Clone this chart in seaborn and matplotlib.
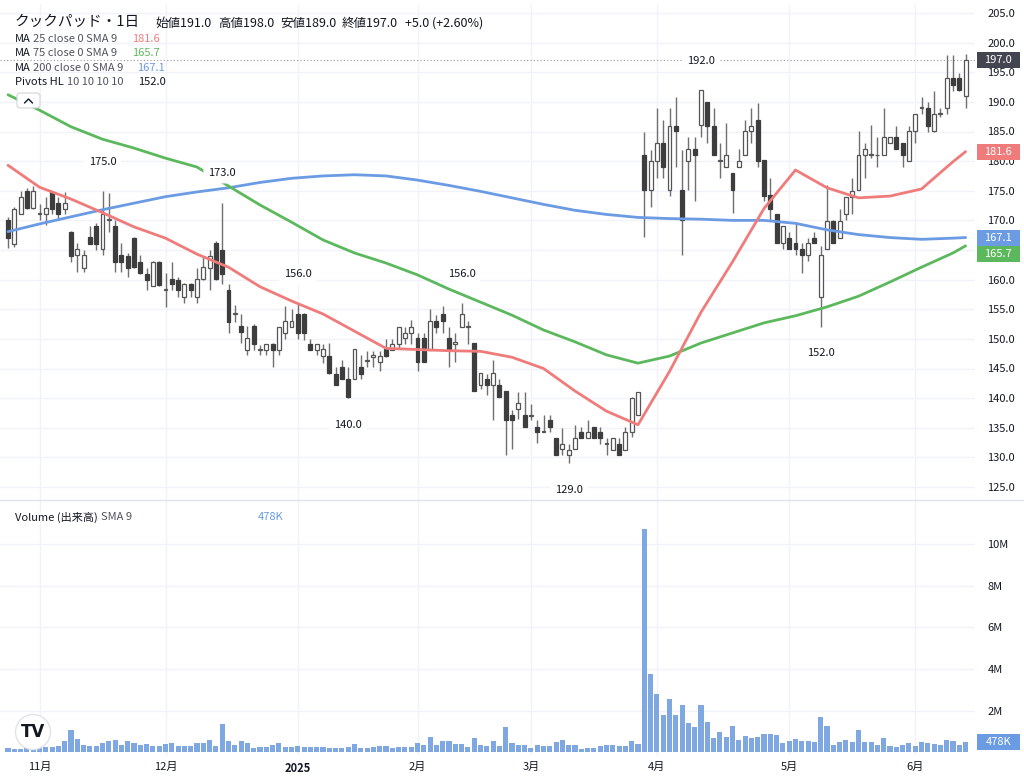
import numpy as np
import pandas as pd
import seaborn as sns
import matplotlib
matplotlib.use("Agg")
import matplotlib.pyplot as plt
from matplotlib.transforms import blended_transform_factory
from matplotlib.patches import Rectangle, FancyBboxPatch, Circle
from matplotlib.lines import Line2D

# ---------------- data ----------------
open_ = [
    170.0, 166.0, 171.1, 175.0, 172.1, 171.0, 171.1, 174.8, 173.0, 172.0,
    168.0, 164.2, 162.0, 167.2, 169.0, 165.2, 170.0, 169.0, 164.2, 164.0,
    167.0, 163.0, 161.0, 159.0, 163.0, 158.2, 160.1, 160.0, 157.1, 159.3,
    157.1, 160.1, 162.0, 166.2, 165.0, 158.2, 154.2, 152.2, 148.1, 152.2,
    148.1, 148.1, 149.1, 148.1, 151.0, 152.0, 154.2, 154.2, 149.1, 148.1,
    147.1, 147.1, 144.1, 145.3, 143.2, 143.2, 145.3, 146.3, 147.0, 146.1,
    148.3, 148.1, 149.1, 150.1, 151.0, 150.1, 150.1, 148.1, 153.0, 154.2,
    150.1, 149.2, 152.0, 152.0, 149.3, 142.2, 143.2, 142.2, 142.2, 141.2,
    137.2, 138.2, 137.2, 137.0, 135.1, 134.3, 136.3, 133.3, 131.4, 130.4,
    131.4, 134.3, 133.3, 135.1, 134.3, 132.2, 131.2, 132.3, 131.2, 134.3,
    137.2, 181.0, 175.1, 180.0, 183.0, 175.1, 185.9, 175.1, 180.0, 182.0,
    186.1, 190.0, 185.9, 180.0, 179.0, 178.0, 179.0, 181.0, 185.0, 186.9,
    180.2, 174.2, 171.1, 166.1, 167.1, 166.1, 165.1, 164.2, 167.1, 157.1,
    165.1, 169.9, 167.1, 171.1, 174.0, 175.1, 181.0, 181.0, 181.0, 181.0,
    183.0, 184.0, 183.0, 180.1, 185.0, 188.9, 188.9, 185.0, 188.0, 188.9,
    194.0, 194.0, 191.0,
]
high = [
    170.5, 172.3, 175.0, 175.5, 175.8, 172.7, 174.0, 174.9, 174.0, 174.8,
    168.2, 166.2, 165.0, 169.0, 169.5, 175.0, 174.6, 170.0, 166.2, 164.5,
    167.2, 164.2, 162.0, 163.2, 163.2, 161.1, 163.0, 160.5, 159.5, 159.5,
    162.0, 164.0, 165.0, 166.5, 173.0, 159.3, 155.7, 154.2, 152.2, 152.5,
    149.0, 149.1, 149.3, 152.0, 155.6, 155.0, 156.0, 154.3, 150.0, 149.1,
    149.1, 149.3, 145.3, 146.5, 145.3, 148.3, 147.3, 148.0, 148.0, 148.0,
    150.0, 150.0, 152.0, 152.0, 153.2, 151.0, 151.0, 155.0, 154.0, 155.6,
    152.0, 151.0, 156.0, 153.0, 149.3, 144.2, 144.0, 146.5, 143.2, 141.2,
    138.0, 141.0, 141.0, 139.0, 136.3, 137.2, 137.2, 133.3, 135.0, 132.3,
    135.4, 135.1, 136.3, 135.1, 135.1, 133.3, 133.3, 133.3, 135.1, 140.2,
    141.0, 185.0, 181.9, 188.9, 186.9, 188.9, 190.9, 181.9, 184.1, 184.1,
    192.0, 190.0, 188.9, 183.0, 186.4, 178.0, 182.0, 186.9, 188.9, 189.8,
    180.2, 177.1, 171.1, 169.0, 168.1, 169.8, 166.1, 167.1, 168.1, 165.6,
    176.0, 170.0, 172.0, 174.0, 177.1, 185.1, 183.0, 186.1, 184.0, 188.9,
    184.0, 185.9, 183.0, 185.9, 188.0, 190.9, 190.0, 191.9, 188.9, 197.9,
    197.9, 194.9, 198.0,
]
low = [
    165.3, 165.5, 171.0, 172.0, 172.0, 170.0, 169.3, 171.0, 170.0, 171.0,
    163.0, 161.3, 161.3, 166.0, 165.0, 164.2, 168.0, 161.3, 161.3, 160.4,
    162.0, 161.0, 158.2, 159.0, 159.0, 155.3, 158.2, 157.0, 156.0, 157.0,
    156.0, 160.0, 158.2, 160.0, 159.3, 151.0, 152.9, 149.3, 147.3, 148.1,
    147.3, 147.3, 145.3, 147.3, 150.0, 152.0, 150.0, 149.8, 148.1, 147.3,
    146.0, 144.1, 142.2, 143.2, 140.0, 143.2, 143.2, 145.3, 145.3, 144.6,
    147.0, 148.1, 148.3, 149.1, 149.1, 144.6, 146.1, 148.1, 151.0, 151.0,
    145.3, 146.1, 152.0, 149.1, 141.2, 141.5, 140.5, 136.3, 140.2, 130.4,
    131.4, 136.5, 135.1, 136.3, 132.5, 134.2, 134.2, 130.4, 130.4, 129.0,
    131.4, 133.3, 133.3, 133.3, 132.3, 130.4, 131.2, 130.4, 131.2, 133.4,
    137.2, 167.2, 172.2, 177.1, 177.1, 174.1, 179.0, 164.2, 175.1, 173.2,
    184.1, 183.0, 181.0, 177.1, 179.0, 171.2, 179.0, 181.0, 183.0, 179.0,
    173.2, 170.1, 166.1, 165.1, 165.1, 164.2, 161.2, 163.2, 166.1, 152.0,
    165.1, 166.1, 167.1, 170.1, 171.1, 175.1, 177.1, 180.5, 179.0, 181.0,
    183.0, 182.0, 179.0, 180.0, 183.0, 188.0, 185.0, 185.0, 187.4, 188.0,
    191.9, 191.9, 189.0,
]
close = [
    167.0, 172.0, 174.0, 172.1, 175.0, 171.3, 172.1, 172.0, 171.0, 173.0,
    164.0, 165.2, 164.2, 166.0, 166.0, 171.0, 170.3, 163.0, 163.0, 162.0,
    162.1, 161.1, 160.0, 163.0, 159.1, 158.4, 159.3, 158.2, 159.3, 158.2,
    160.1, 162.1, 164.0, 160.1, 161.0, 152.8, 154.4, 151.1, 150.1, 149.1,
    148.3, 149.1, 148.1, 152.0, 153.0, 153.0, 151.0, 151.0, 148.1, 149.1,
    148.3, 144.2, 142.2, 143.2, 140.2, 148.3, 144.1, 146.5, 147.2, 147.1,
    147.1, 149.1, 152.0, 151.0, 152.0, 146.1, 146.1, 153.0, 152.0, 153.0,
    148.1, 149.4, 154.2, 152.2, 141.2, 144.2, 142.2, 144.2, 140.2, 136.3,
    136.3, 139.2, 135.1, 137.2, 134.3, 134.5, 135.1, 130.4, 132.3, 131.2,
    133.3, 133.3, 134.3, 133.3, 133.3, 132.4, 133.3, 130.4, 134.3, 140.0,
    141.0, 175.1, 180.0, 183.0, 179.0, 185.9, 185.0, 170.1, 182.0, 181.0,
    192.0, 185.9, 181.0, 180.2, 181.0, 175.1, 180.0, 185.0, 185.9, 180.0,
    174.1, 171.9, 166.1, 169.0, 165.1, 165.1, 164.2, 166.1, 166.1, 164.2,
    169.9, 166.1, 169.9, 174.0, 175.0, 181.0, 182.0, 181.2, 181.1, 184.0,
    184.0, 182.0, 181.0, 185.0, 188.0, 189.1, 185.9, 188.0, 188.2, 194.0,
    192.8, 192.0, 197.0,
]
# daily volume, millions of shares
volume_m = [
    0.23, 0.15, 0.15, 0.32, 0.25, 0.25, 0.25, 0.28, 0.33, 0.53,
    1.06, 0.63, 0.36, 0.31, 0.31, 0.44, 0.55, 0.60, 0.36, 0.53,
    0.47, 0.37, 0.40, 0.31, 0.31, 0.42, 0.44, 0.33, 0.33, 0.33,
    0.47, 0.47, 0.60, 0.31, 1.36, 0.56, 0.34, 0.53, 0.44, 0.20,
    0.27, 0.27, 0.34, 0.47, 0.25, 0.25, 0.33, 0.28, 0.28, 0.28,
    0.25, 0.23, 0.23, 0.23, 0.28, 0.39, 0.21, 0.21, 0.28, 0.33,
    0.30, 0.19, 0.25, 0.25, 0.25, 0.45, 0.37, 0.74, 0.37, 0.53,
    0.53, 0.42, 0.40, 0.25, 0.71, 0.36, 0.31, 0.56, 0.31, 1.20,
    0.45, 0.36, 0.36, 0.23, 0.36, 0.31, 0.31, 0.50, 0.60, 0.36,
    0.36, 0.17, 0.23, 0.21, 0.30, 0.36, 0.36, 0.31, 0.33, 0.55,
    0.40, 10.72, 3.76, 2.79, 1.78, 2.55, 1.81, 2.27, 1.41, 1.22,
    2.26, 1.44, 0.71, 0.99, 0.75, 1.25, 0.60, 0.80, 0.68, 0.75,
    0.88, 0.88, 0.84, 0.47, 0.53, 0.63, 0.53, 0.53, 0.50, 1.70,
    1.27, 0.34, 0.50, 0.58, 0.50, 1.07, 0.50, 0.50, 0.34, 0.68,
    0.33, 0.28, 0.34, 0.44, 0.30, 0.50, 0.47, 0.40, 0.34, 0.61,
    0.53, 0.34, 0.478,
]
# moving averages sampled every 5 sessions (plus the last session)
ma_idx = list(range(0, 151, 5)) + [152]
ma25 = [179.3, 175.6, 173.6, 171.3, 168.9, 167.0, 164.3, 162.1, 158.8, 156.4,
        154.2, 151.3, 148.4, 148.2, 148.0, 147.9, 146.9, 145.0, 141.2, 137.8,
        135.5, 144.5, 154.5, 163.0, 172.0, 178.5, 175.5, 173.8, 174.1, 175.3,
        179.9, 181.6]
ma75 = [191.2, 188.6, 185.8, 183.7, 182.2, 180.5, 179.0, 175.8, 172.6, 169.7,
        166.7, 164.5, 162.8, 160.8, 158.4, 156.2, 154.0, 151.5, 149.5, 147.3,
        145.9, 147.1, 149.3, 151.0, 152.7, 153.9, 155.4, 157.2, 159.6, 162.1,
        164.5, 165.7]
ma200 = [168.1, 169.4, 170.6, 171.8, 172.9, 174.0, 174.8, 175.5, 176.4, 177.1,
         177.5, 177.7, 177.5, 176.8, 175.9, 174.9, 173.8, 172.7, 171.7, 171.0,
         170.5, 170.3, 170.2, 170.0, 170.0, 169.5, 168.4, 167.6, 167.1, 166.8,
         167.0, 167.1]
pivot_high_idx = [15, 34, 46, 72, 110]
pivot_low_idx = [54, 89, 129]
month_idx = [5, 25, 46, 65, 83, 103, 124, 144]
month_labels = ["11月", "12月", "2025", "2月", "3月", "4月", "5月", "6月"]
price_ticks = list(range(125, 206, 5))
volume_ticks = [2, 4, 6, 8, 10]

# ---------------- style ----------------
sns.set_theme(style="white")
plt.rcParams["font.family"] = ["Noto Sans CJK JP", "DejaVu Sans"]

TXT = "#131722"
SUB = "#50535e"
GRID = "#f0f3fa"
WICK = "#6f6f6f"
UP_EDGE = "#555555"
DOWN = "#3d3d3d"
C25 = "#f07b7b"
C75 = "#5cb85c"
C200 = "#6a9be3"
VOL = "#7fa8e3"
LAST = "#434651"

W, H = 1024, 778
fig = plt.figure(figsize=(W / 100, H / 100), dpi=100)
fig.patch.set_facecolor("white")


def fx(px):
    return px / W


def fy(py):
    return 1 - py / H


plot_w = 975 / W
axp = fig.add_axes([0, fy(500), plot_w, (500 - 4) / H])
axv = fig.add_axes([0, fy(755), plot_w, (755 - 500) / H])

o = np.array(open_)
h = np.array(high)
l = np.array(low)
c = np.array(close)
idx = np.arange(len(c))
x_lo, x_hi = -8 / 6.3, (975 - 8) / 6.3

# ---------------- price pane ----------------
up = c >= o
axp.vlines(idx, l, h, color=WICK, linewidth=1, zorder=2)
axp.bar(idx[up], (c - o)[up], bottom=o[up], width=0.62, color="white",
        edgecolor=UP_EDGE, linewidth=0.9, zorder=3)
axp.bar(idx[~up], (o - c)[~up], bottom=c[~up], width=0.62, color=DOWN,
        edgecolor=DOWN, linewidth=0.9, zorder=3)

ma_df = pd.DataFrame({"bar": ma_idx, "ma25": ma25, "ma75": ma75, "ma200": ma200})
for col, colr in [("ma200", C200), ("ma75", C75), ("ma25", C25)]:
    sns.lineplot(data=ma_df, x="bar", y=col, color=colr, linewidth=2,
                 ax=axp, zorder=4, legend=False)

axp.axhline(c[-1], color="#9598a1", linestyle=(0, (1, 2)), linewidth=0.8, zorder=1)

for i in pivot_high_idx:
    axp.annotate(f"{h[i]:.1f}", xy=(i, h[i]), xytext=(0, 21),
                 textcoords="offset points", ha="center", va="center",
                 fontsize=8, color=TXT, zorder=6,
                 bbox=dict(boxstyle="round,pad=0.45", fc="white", ec="none"))
for i in pivot_low_idx:
    axp.annotate(f"{l[i]:.1f}", xy=(i, l[i]), xytext=(0, -19),
                 textcoords="offset points", ha="center", va="center",
                 fontsize=8, color=TXT, zorder=6,
                 bbox=dict(boxstyle="round,pad=0.45", fc="white", ec="none"))

axp.set_xlim(x_lo, x_hi)
axp.set_ylim(205 - (500 - 13) / 5.925, 205 + (13 - 4) / 5.925)
axp.set_xticks(month_idx)
axp.set_xticklabels([])
axp.yaxis.tick_right()
axp.set_yticks(price_ticks)
axp.set_yticklabels([f"{t:.1f}" for t in price_ticks])
axp.tick_params(axis="y", length=0, pad=9, labelsize=8, labelcolor=TXT)
axp.tick_params(axis="x", length=0)
axp.grid(True, color=GRID, linewidth=1)
axp.set_axisbelow(True)
axp.set_xlabel("")
axp.set_ylabel("")

# ---------------- volume pane ----------------
vol_df = pd.DataFrame({"bar": idx, "volume": volume_m})
sns.barplot(data=vol_df, x="bar", y="volume", native_scale=True, color=VOL,
            saturation=1, width=0.8, errorbar=None, linewidth=0, ax=axv)
axv.set_xlim(x_lo, x_hi)
axv.set_ylim(-(755 - 752.4) / 20.83, (752.4 - 500) / 20.83)
axv.yaxis.tick_right()
axv.set_yticks(volume_ticks)
axv.set_yticklabels([f"{t}M" for t in volume_ticks])
axv.set_xticks(month_idx)
axv.set_xticklabels(month_labels)
axv.get_xticklabels()[2].set_fontweight("bold")
axv.tick_params(axis="y", length=0, pad=9, labelsize=8, labelcolor=TXT)
axv.tick_params(axis="x", length=0, pad=5, labelsize=8, labelcolor=TXT)
axv.grid(True, color=GRID, linewidth=1)
axv.set_axisbelow(True)
axv.set_xlabel("")
axv.set_ylabel("")

for ax in (axp, axv):
    for s in ax.spines.values():
        s.set_visible(False)

# ---------------- scale tags ----------------
def scale_tags(ax, tags, half_h):
    """Draw value tags on the right scale, pushing overlapping ones apart."""
    tr = blended_transform_factory(ax.transAxes, ax.transData)
    prev = None
    for value, text, color in sorted(tags, key=lambda t: -t[0]):
        pos = value
        if prev is not None and prev - pos < 2 * half_h:
            pos = prev - 2 * half_h
        prev = pos
        ax.add_patch(Rectangle((1.002, pos - half_h), 0.044, 2 * half_h,
                               transform=tr, facecolor=color, edgecolor="none",
                               clip_on=False, zorder=10))
        ax.text(1.024, pos, text, transform=tr, ha="center", va="center",
                color="white", fontsize=8, clip_on=False, zorder=11)


ph = 8 / 5.925
scale_tags(axp, [(c[-1], f"{c[-1]:.1f}", LAST),
                 (ma25[-1], f"{ma25[-1]:.1f}", C25),
                 (ma200[-1], f"{ma200[-1]:.1f}", C200),
                 (ma75[-1], f"{ma75[-1]:.1f}", C75)], ph)
scale_tags(axv, [(volume_m[-1], f"{volume_m[-1] * 1000:.0f}K", C200)], 8 / 20.83)

# pane separator
fig.add_artist(Line2D([0, 1], [fy(500), fy(500)], transform=fig.transFigure,
                      color="#e0e3eb", linewidth=1))

# ---------------- header and legend ----------------
fig.text(fx(15), fy(22), "クックパッド・1日", fontsize=10.5, color=TXT, va="center")
chg = c[-1] - c[-2]
pct = chg / c[-2] * 100
for xp, s in [(155, f"始値{o[-1]:.1f}"), (218, f"高値{h[-1]:.1f}"),
              (280, f"安値{l[-1]:.1f}"), (342, f"終値{c[-1]:.1f}"),
              (405, f"{chg:+.1f} ({pct:+.2f}%)")]:
    fig.text(fx(xp), fy(23), s, fontsize=9, color=TXT, va="center")

legend_rows = [
    (39, "MA", "25 close 0 SMA 9", f"{ma25[-1]:.1f}", C25, 132),
    (53, "MA", "75 close 0 SMA 9", f"{ma75[-1]:.1f}", C75, 132),
    (68, "MA", "200 close 0 SMA 9", f"{ma200[-1]:.1f}", C200, 137),
    (82, "Pivots HL", "10 10 10 10", f"{l[pivot_low_idx[-1]]:.1f}", TXT, 138),
]
for yp, name, params, val, colr, xv in legend_rows:
    fig.text(fx(15), fy(yp), name, fontsize=8, color=TXT, va="center")
    fig.text(fx(33 if name == "MA" else 67), fy(yp), params, fontsize=8,
             color=SUB, va="center")
    fig.text(fx(xv), fy(yp), val, fontsize=8, color=colr, va="center")

# collapse button
fig.add_artist(FancyBboxPatch((fx(17), fy(108)), fx(23), 15 / H,
                              boxstyle="round,pad=0,rounding_size=0.004",
                              transform=fig.transFigure, fc="white",
                              ec="#d1d4dc", linewidth=0.8))
fig.add_artist(Line2D([fx(24.5), fx(28.5), fx(32.5)], [fy(103), fy(99), fy(103)],
                      transform=fig.transFigure, color=TXT, linewidth=1))

fig.text(fx(15), fy(517), "Volume (出来高)", fontsize=8, color=TXT, va="center")
fig.text(fx(101), fy(517), "SMA 9", fontsize=8, color=SUB, va="center")
fig.text(fx(258), fy(517), f"{volume_m[-1] * 1000:.0f}K", fontsize=8,
         color=C200, va="center")

# logo badge
fig.add_artist(Circle((0.33, (H - 732) / 100), 0.175, transform=fig.dpi_scale_trans,
                      fc="white", ec="#e0e3eb", linewidth=1, zorder=5))
fig.text(fx(33), fy(732), "TV", fontsize=12, fontweight="heavy", color="#131722",
         ha="center", va="center", family="DejaVu Sans", zorder=6)

fig.savefig("out.png", dpi=100, facecolor="white")
